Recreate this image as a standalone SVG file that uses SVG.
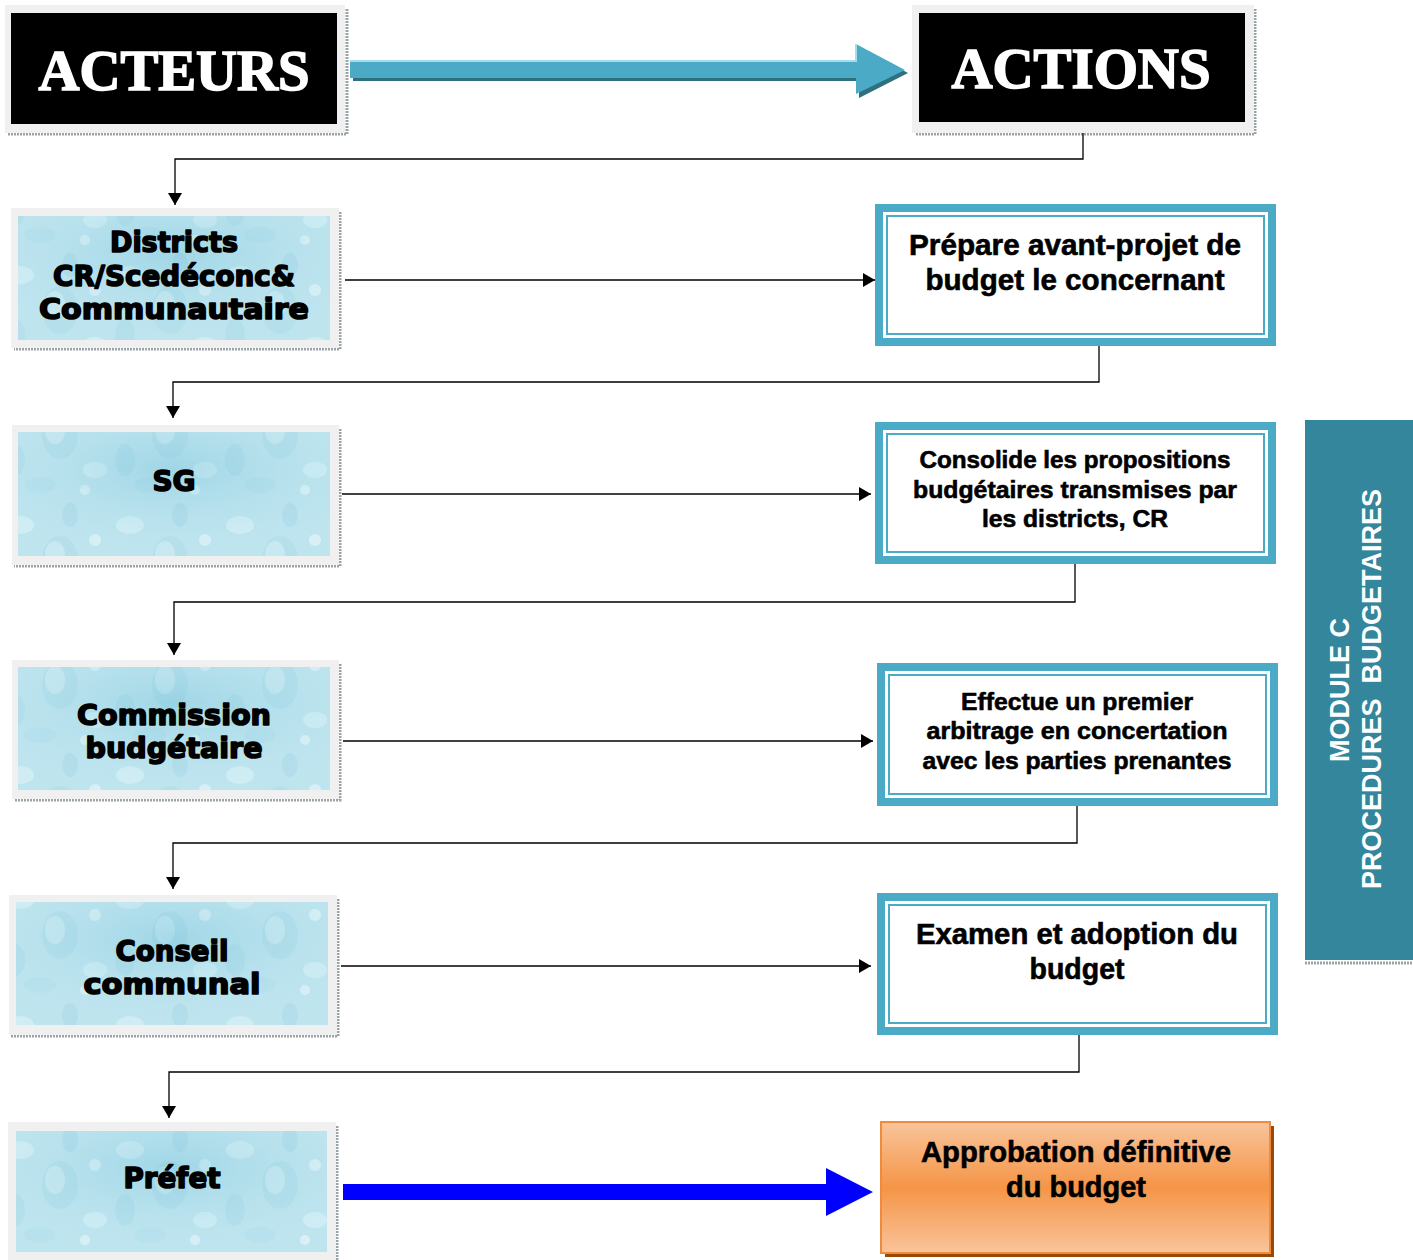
<svg xmlns="http://www.w3.org/2000/svg" width="1413" height="1260" viewBox="0 0 1413 1260">
<style>
.title{font-family:"Liberation Serif",serif;font-weight:bold;fill:#fff;stroke:#fff;stroke-width:1.6;text-anchor:middle}
.actor{font-family:"DejaVu Sans","Liberation Sans",sans-serif;font-weight:900;fill:#000;stroke:#000;stroke-width:1.6;stroke-linejoin:round;text-anchor:middle;font-size:28px}
.act{font-family:"Liberation Sans Narrow","Liberation Sans",sans-serif;font-weight:bold;fill:#000;stroke:#000;stroke-width:0.6;text-anchor:middle}
.side{font-family:"Liberation Sans",Arial,sans-serif;font-weight:bold;fill:#fff;text-anchor:middle;font-size:27px}
.frame{fill:#f0f0f0}
.shadow{fill:none;stroke:#9aa4a8;stroke-width:3;stroke-dasharray:2 1}
.tex{fill:url(#water)}
.abox{fill:#fff;stroke:#4babc6;stroke-width:8}
.ainner{fill:none;stroke:#4babc6;stroke-width:2}
.conn{fill:none;stroke:#000;stroke-width:1.3}
</style>
<defs>
<pattern id="water" patternUnits="userSpaceOnUse" width="110" height="125">
<rect width="110" height="125" fill="#b3e0ec"/>
<ellipse cx="20" cy="25" rx="14" ry="9" fill="#d8f2f8" opacity="0.55"/>
<ellipse cx="70" cy="15" rx="8" ry="12" fill="#8cc9dc" opacity="0.35"/>
<ellipse cx="60" cy="60" rx="18" ry="24" fill="#98d1e2" opacity="0.4"/>
<ellipse cx="55" cy="55" rx="10" ry="14" fill="#dff5fa" opacity="0.4"/>
<ellipse cx="15" cy="85" rx="10" ry="16" fill="#90cde0" opacity="0.35"/>
<ellipse cx="95" cy="95" rx="12" ry="8" fill="#d5f1f7" opacity="0.55"/>
<ellipse cx="40" cy="110" rx="16" ry="8" fill="#a1d6e6" opacity="0.4"/>
<ellipse cx="95" cy="40" rx="6" ry="6" fill="#e6f8fb" opacity="0.55"/>
<ellipse cx="85" cy="115" rx="5" ry="5" fill="#e6f8fb" opacity="0.55"/>
</pattern>
<radialGradient id="glow" cx="0.5" cy="0.3" r="0.7">
<stop offset="0" stop-color="#7cc4dc" stop-opacity="0.35"/>
<stop offset="1" stop-color="#ffffff" stop-opacity="0.15"/>
</radialGradient>
<linearGradient id="orange" x1="0" y1="0" x2="0" y2="1">
<stop offset="0" stop-color="#f9c49b"/>
<stop offset="0.5" stop-color="#f59547"/>
<stop offset="1" stop-color="#f9c49b"/>
</linearGradient>
<marker id="ahd" markerWidth="12" markerHeight="14" refX="12" refY="7" orient="auto" markerUnits="userSpaceOnUse">
<path d="M0,0 L12,7 L0,14 Z" fill="#000"/>
</marker>
</defs>
<rect width="1413" height="1260" fill="#fff"/>

<g id="acteurs">
<path class="shadow" d="M347,9 V134 H8"/>
<rect class="frame" x="5" y="5" width="340" height="128"/>
<rect x="11" y="13" width="326" height="111" fill="#000"/>
<text class="title" x="174" y="90" font-size="56" textLength="271" lengthAdjust="spacingAndGlyphs">ACTEURS</text>
</g>
<g id="actions">
<path class="shadow" d="M1255,9 V134 H915"/>
<rect class="frame" x="912" y="5" width="342" height="128"/>
<rect x="919" y="13" width="326" height="109" fill="#000"/>
<text class="title" x="1081" y="88" font-size="56" textLength="259" lengthAdjust="spacingAndGlyphs">ACTIONS</text>
</g>

<g id="main-arrow">
<path d="M353,64 H859 V47 L908,73 L859,98 V81 H353 Z" fill="#2e6f80"/>
<path d="M350,61 H856 V44 L905,70 L856,94 V78 H350 Z" fill="#4babc6"/>
<path d="M350,61 H856 V44" fill="none" stroke="#a6dbe8" stroke-width="2"/>
</g>

<g id="n-districts">
<path class="shadow" d="M340,212 V349 H14"/>
<rect class="frame" x="11" y="208" width="328" height="140"/>
<rect class="tex" x="18" y="216" width="312" height="124"/>
<rect x="18" y="216" width="312" height="124" fill="url(#glow)"/>
<text class="actor" x="174" y="252" textLength="128" lengthAdjust="spacingAndGlyphs">Districts</text>
<text class="actor" x="174" y="286" textLength="242" lengthAdjust="spacingAndGlyphs">CR/Scedéconc&amp;</text>
<text class="actor" x="174" y="319" textLength="270" lengthAdjust="spacingAndGlyphs">Communautaire</text>
</g>
<g id="n-sg">
<path class="shadow" d="M340,429 V566 H14"/>
<rect class="frame" x="12" y="425" width="327" height="140"/>
<rect class="tex" x="18" y="432" width="312" height="124"/>
<rect x="18" y="432" width="312" height="124" fill="url(#glow)"/>
<text class="actor" x="174" y="491">SG</text>
</g>
<g id="n-commission">
<path class="shadow" d="M340,664 V800 H14"/>
<rect class="frame" x="12" y="660" width="327" height="139"/>
<rect class="tex" x="18" y="667" width="312" height="123"/>
<rect x="18" y="667" width="312" height="123" fill="url(#glow)"/>
<text class="actor" x="174" y="725" textLength="194" lengthAdjust="spacingAndGlyphs">Commission</text>
<text class="actor" x="174" y="758" textLength="177" lengthAdjust="spacingAndGlyphs">budgétaire</text>
</g>
<g id="n-conseil">
<path class="shadow" d="M338,899 V1036 H11"/>
<rect class="frame" x="9" y="895" width="328" height="140"/>
<rect class="tex" x="16" y="902" width="312" height="123"/>
<rect x="16" y="902" width="312" height="123" fill="url(#glow)"/>
<text class="actor" x="172" y="961" textLength="113" lengthAdjust="spacingAndGlyphs">Conseil</text>
<text class="actor" x="172" y="994" textLength="177" lengthAdjust="spacingAndGlyphs">communal</text>
</g>
<g id="n-prefet">
<path class="shadow" d="M337,1126 V1260"/>
<rect class="frame" x="8" y="1122" width="328" height="140"/>
<rect class="tex" x="16" y="1131" width="311" height="121"/>
<rect x="16" y="1131" width="311" height="121" fill="url(#glow)"/>
<text class="actor" x="172" y="1188" textLength="97" lengthAdjust="spacingAndGlyphs">Préfet</text>
</g>

<g id="a-prepare">
<rect class="abox" x="879" y="208" width="393" height="134"/>
<rect class="ainner" x="887" y="216" width="377" height="118"/>
<text class="act" x="1075" y="255" font-size="29" textLength="332" lengthAdjust="spacingAndGlyphs">Prépare avant-projet de</text>
<text class="act" x="1075" y="290" font-size="29" textLength="299" lengthAdjust="spacingAndGlyphs">budget le concernant</text>
</g>
<g id="a-consolide">
<rect class="abox" x="879" y="426" width="393" height="134"/>
<rect class="ainner" x="887" y="434" width="377" height="118"/>
<text class="act" x="1075" y="468" font-size="24" textLength="311" lengthAdjust="spacingAndGlyphs">Consolide les propositions</text>
<text class="act" x="1075" y="498" font-size="24" textLength="324" lengthAdjust="spacingAndGlyphs">budgétaires transmises par</text>
<text class="act" x="1075" y="527" font-size="24" textLength="186" lengthAdjust="spacingAndGlyphs">les districts, CR</text>
</g>
<g id="a-effectue">
<rect class="abox" x="881" y="667" width="393" height="135"/>
<rect class="ainner" x="889" y="675" width="377" height="119"/>
<text class="act" x="1077" y="710" font-size="24" textLength="232" lengthAdjust="spacingAndGlyphs">Effectue un premier</text>
<text class="act" x="1077" y="739" font-size="24" textLength="301" lengthAdjust="spacingAndGlyphs">arbitrage en concertation</text>
<text class="act" x="1077" y="769" font-size="24" textLength="309" lengthAdjust="spacingAndGlyphs">avec les parties prenantes</text>
</g>
<g id="a-examen">
<rect class="abox" x="881" y="897" width="393" height="134"/>
<rect class="ainner" x="889" y="905" width="377" height="118"/>
<text class="act" x="1077" y="944" font-size="29" textLength="322" lengthAdjust="spacingAndGlyphs">Examen et adoption du</text>
<text class="act" x="1077" y="979" font-size="29" textLength="95" lengthAdjust="spacingAndGlyphs">budget</text>
</g>
<g id="a-approbation">
<rect x="885" y="1126" width="389" height="131" fill="#984807"/>
<rect x="881" y="1122" width="389" height="131" fill="url(#orange)" stroke="#f08a3c" stroke-width="2"/>
<text class="act" x="1076" y="1162" font-size="29" textLength="310" lengthAdjust="spacingAndGlyphs">Approbation définitive</text>
<text class="act" x="1076" y="1197" font-size="29" textLength="140" lengthAdjust="spacingAndGlyphs">du budget</text>
</g>

<g id="side-label">
<path d="M1305,963 H1412" stroke="#9aa4a8" stroke-width="3" stroke-dasharray="2 1"/>
<rect x="1305" y="420" width="108" height="540" fill="#34869c"/>
<text class="side" transform="translate(1349,690) rotate(-90)">MODULE C</text>
<text class="side" transform="translate(1381,689) rotate(-90)" xml:space="preserve">PROCEDURES  BUDGETAIRES</text>
</g>

<g id="connectors">
<path class="conn" d="M1083,133 V159 H175 V205" marker-end="url(#ahd)"/>
<path class="conn" d="M345,280 H875" marker-end="url(#ahd)"/>
<path class="conn" d="M1099,346 V382 H173 V418" marker-end="url(#ahd)"/>
<path class="conn" d="M342,494 H871" marker-end="url(#ahd)"/>
<path class="conn" d="M1075,564 V602 H174 V655" marker-end="url(#ahd)"/>
<path class="conn" d="M343,741 H873" marker-end="url(#ahd)"/>
<path class="conn" d="M1077,806 V843 H173 V889" marker-end="url(#ahd)"/>
<path class="conn" d="M341,966 H871" marker-end="url(#ahd)"/>
<path class="conn" d="M1079,1035 V1072 H169 V1118" marker-end="url(#ahd)"/>
<path d="M343,1184 H826 V1168 L873,1192 L826,1216 V1200 H343 Z" fill="#0000ff"/>
</g>
</svg>
